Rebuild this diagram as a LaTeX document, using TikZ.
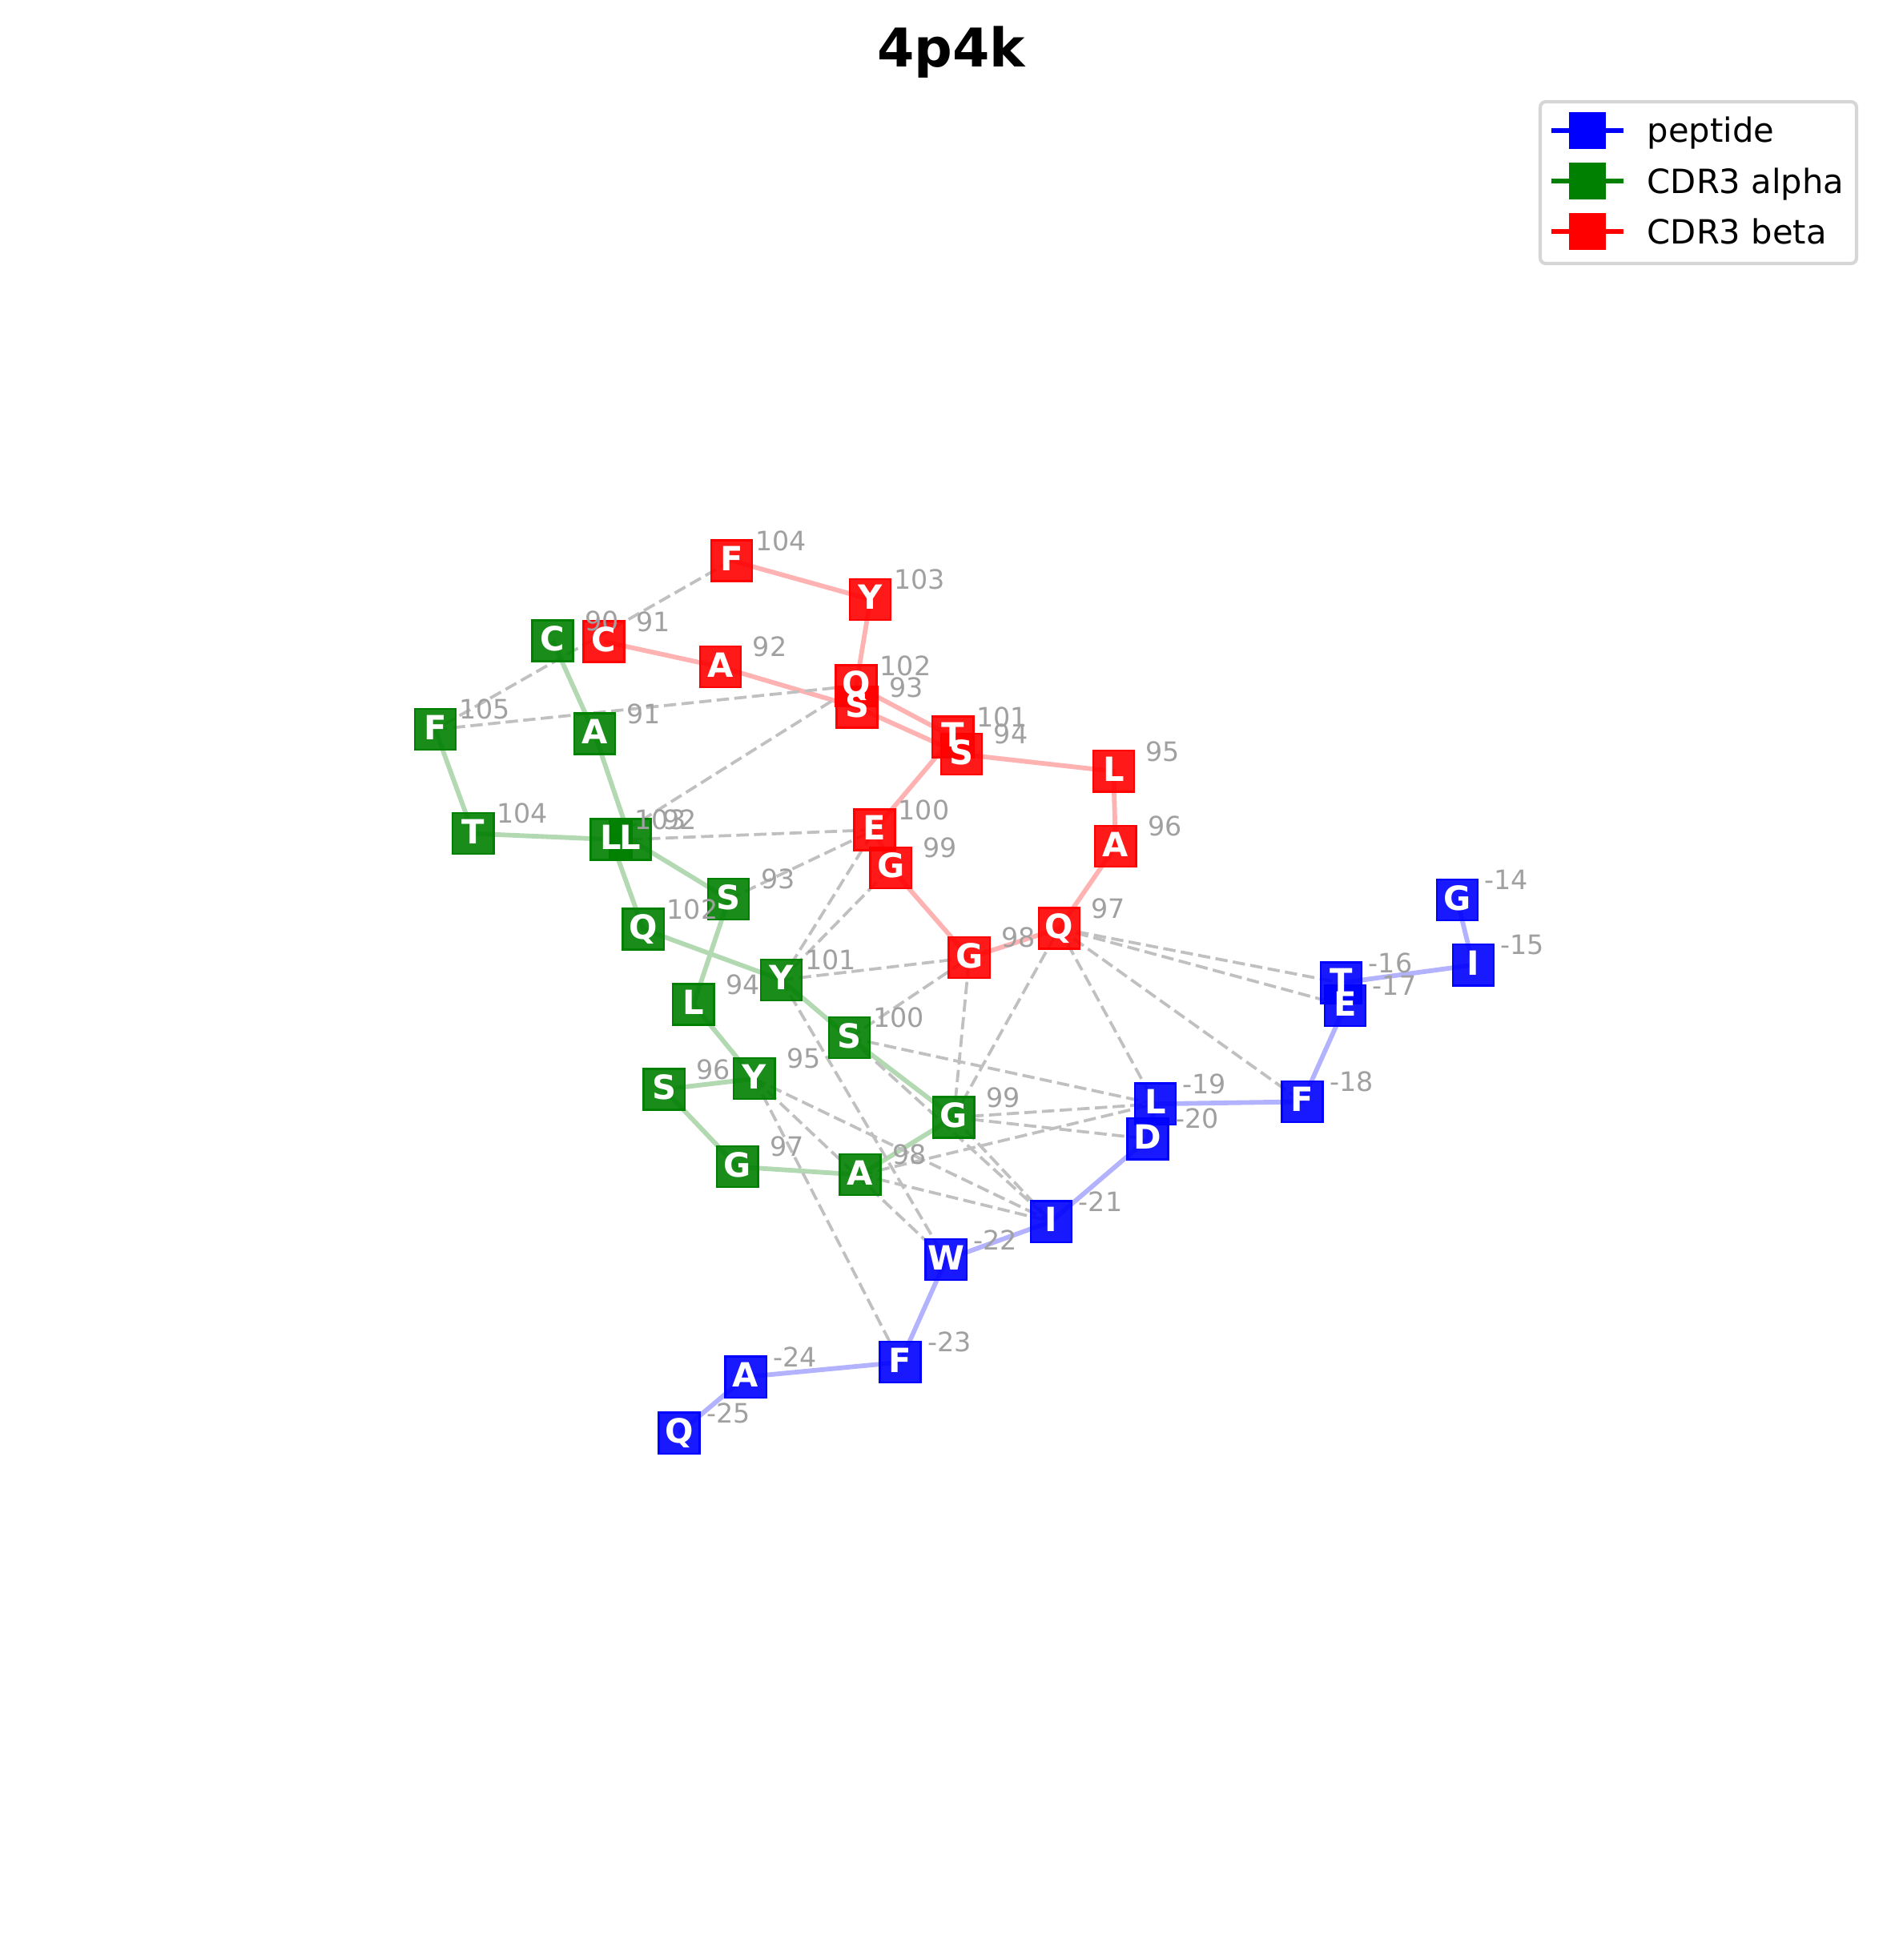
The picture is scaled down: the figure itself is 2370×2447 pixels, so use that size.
\documentclass[tikz,border=0pt]{standalone}
\usepackage{fontspec}
\setmainfont{DejaVu Sans}
\usepackage{xcolor}
\definecolor{pepblue}{RGB}{0,0,255}
\definecolor{cdragreen}{RGB}{0,128,0}
\definecolor{cdrbred}{RGB}{255,0,0}
\definecolor{ctcgray}{RGB}{192,192,192}
\definecolor{numgray}{RGB}{160,160,160}
\definecolor{legframe}{RGB}{214,214,214}
\usepackage{tikz}

% residue/letter/number/x/y (pixels, y downwards)
\def\pepdata{p14/G/-14/1819.4/1123.6, p15/I/-15/1839.3/1204.8, p16/T/-16/1674.5/1227, p17/E/-17/1679.6/1255.7,
  p18/F/-18/1626/1375.4, p19/L/-19/1442.3/1378.2, p20/D/-20/1433/1421.8, p21/I/-21/1312.5/1525,
  p22/W/-22/1181.1/1572.7, p23/F/-23/1124/1700.7, p24/A/-24/931.1/1719, p25/Q/-25/848/1789}
\def\alphadata{a90/C/90/690/800, a91/A/91/742.3/916, a92/L/92/787/1048, a93/S/93/909.7/1122.7,
  a94/L/94/865.8/1254, a95/Y/95/941.8/1346.7, a96/S/96/829.1/1360, a97/G/97/920.9/1456.7,
  a98/A/98/1074/1466.7, a99/G/99/1190.8/1395, a100/S/100/1060.7/1295.7, a101/Y/101/975.5/1223.3,
  a102/Q/102/803.1/1160, a103/L/103/763/1048, a104/T/104/590.8/1040.7, a105/F/105/543.4/910.7}
\def\betadata{b91/C/91/754/801, b92/A/92/899.5/832.7, b93/S/93/1070/883, b94/S/94/1200.5/941.7,
  b95/L/95/1390.3/962.9, b96/A/96/1392.9/1056.6, b97/Q/97/1322.4/1159, b98/G/98/1210.2/1195.7,
  b99/G/99/1112.2/1083.3, b100/E/100/1092/1036, b101/T/101/1189.8/920, b102/Q/102/1069/856,
  b103/Y/103/1086.7/748.3, b104/F/104/913.3/700}

\begin{document}
\begin{tikzpicture}[x=0.24pt, y=-0.24pt,
    res/.style={rectangle, draw=#1, fill=#1, fill opacity=0.9, minimum size=12.3pt, inner sep=0pt, line width=0.55pt},
    aa/.style={text=white, font=\fontsize{10}{12}\selectfont\bfseries, inner sep=0pt, text height=7.3pt, text depth=1.3pt},
    num/.style={text=numgray, font=\fontsize{8}{9.6}\selectfont, inner sep=0pt},
    bb/.style={draw=#1!30, line width=1.4pt, line join=round},
    ctc/.style={draw=ctcgray, line width=0.9pt, dash pattern=on 3.7pt off 1.6pt},
    legtext/.style={anchor=base west, inner sep=0pt, font=\fontsize{10}{12}\selectfont},
    legmark/.style={rectangle, fill=#1, minimum size=11pt, inner sep=0pt}
  ]
  \useasboundingbox (0,0) rectangle (2370,2447);
  \node[anchor=base, inner sep=0pt, font=\fontsize{16}{19}\selectfont\bfseries] (title) at (1187.5,83.3) {4p4k};

  \foreach \rid/\ltr/\rnum/\rx/\ry in \pepdata {\coordinate (\rid) at (\rx,\ry);}
  \foreach \rid/\ltr/\rnum/\rx/\ry in \alphadata {\coordinate (\rid) at (\rx,\ry);}
  \foreach \rid/\ltr/\rnum/\rx/\ry in \betadata {\coordinate (\rid) at (\rx,\ry);}

  % backbones
  \draw[bb=pepblue] (p14) -- (p15) -- (p16) -- (p17) -- (p18) -- (p19) -- (p20) -- (p21) -- (p22) -- (p23) -- (p24) -- (p25);
  \draw[bb=cdragreen] (a90) -- (a91) -- (a92) -- (a93) -- (a94) -- (a95) -- (a96) -- (a97) -- (a98) -- (a99) -- (a100)
    -- (a101) -- (a102) -- (a103) -- (a104) -- (a105);
  \draw[bb=cdrbred] (b91) -- (b92) -- (b93) -- (b94) -- (b95) -- (b96) -- (b97) -- (b98) -- (b99) -- (b100) -- (b101)
    -- (b102) -- (b103) -- (b104);

  % contacts
  \foreach \u/\v in {b104/a105, a105/b102, a103/b102, a92/b100, a93/b100, a101/b100, a101/b99, a101/b98,
      a101/p22, a100/b98, a99/b98, a99/b97, b97/p19, b97/p18, b97/p16, b97/p17, a100/p19, a100/p21,
      a99/p21, a99/p19, a99/p20, a98/p19, a98/p21, a95/p21, a95/p22, a95/p23}
    \draw[ctc] (\u) -- (\v);

  % boxes
  \foreach \rid/\ltr/\rnum/\rx/\ry in \pepdata {\node[res=pepblue] (box\rid) at (\rid) {};}
  \foreach \rid/\ltr/\rnum/\rx/\ry in \alphadata {\node[res=cdragreen] (box\rid) at (\rid) {};}
  \foreach \rid/\ltr/\rnum/\rx/\ry in \betadata {\node[res=cdrbred] (box\rid) at (\rid) {};}

  % letters and numbers
  \foreach \rid/\ltr/\rnum/\rx/\ry in \pepdata {\node[aa] at (\rid) {\ltr}; \path (\rid) ++(61.5,-25) node[num] {\rnum};}
  \foreach \rid/\ltr/\rnum/\rx/\ry in \alphadata {\node[aa] at (\rid) {\ltr}; \path (\rid) ++(61.5,-25) node[num] {\rnum};}
  \foreach \rid/\ltr/\rnum/\rx/\ry in \betadata {\node[aa] at (\rid) {\ltr}; \path (\rid) ++(61.5,-25) node[num] {\rnum};}

  % legend
  \draw[legframe, line width=1pt, fill=white, rounded corners=1.7pt] (1923,127) rectangle (2318,329);
  \draw[pepblue, line width=1.45pt] (1937,163) -- (2027,163);
  \node[legmark=pepblue] (legpep) at (1982,163) {};
  \node[legtext] at (2056,177.5) {peptide};
  \draw[cdragreen, line width=1.45pt] (1937,226) -- (2027,226);
  \node[legmark=cdragreen] (legalpha) at (1982,226) {};
  \node[legtext] at (2056,241) {CDR3 alpha};
  \draw[cdrbred, line width=1.45pt] (1937,289) -- (2027,289);
  \node[legmark=cdrbred] (legbeta) at (1982,289) {};
  \node[legtext] at (2056,304.5) {CDR3 beta};
\end{tikzpicture}
\end{document}
